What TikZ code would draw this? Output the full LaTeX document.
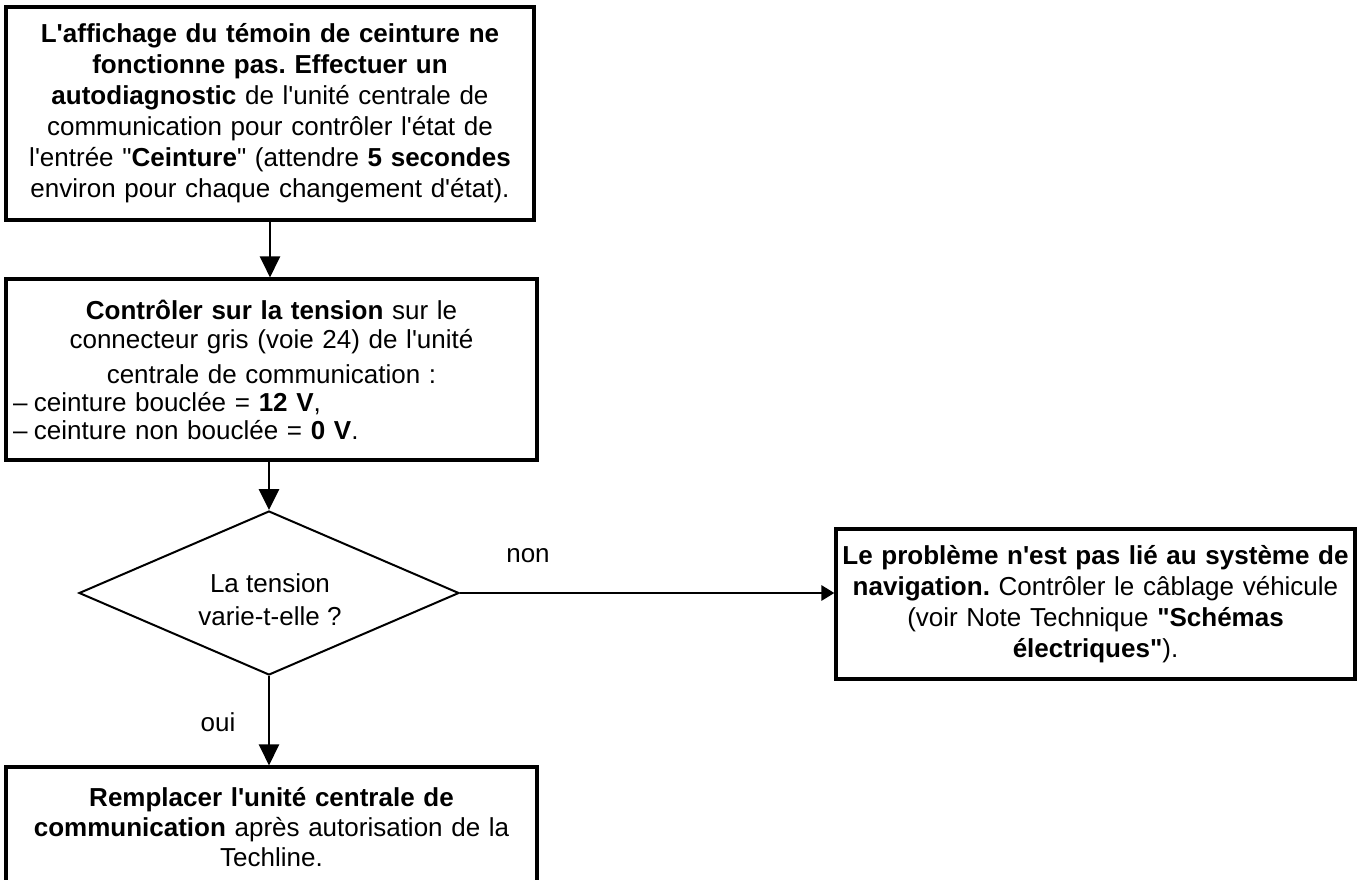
\documentclass[tikz,border=0pt]{standalone}
\usepackage{fontspec}
\newfontfamily\arial{Liberation Sans}
\usetikzlibrary{arrows.meta,shapes.geometric}
\frenchspacing
\begin{document}
\begin{tikzpicture}[x=1pt,y=-1pt,
  every node/.style={font=\arial\fontsize{26}{31}\selectfont, inner sep=0pt},
  box/.style={draw, line width=3.2pt, rectangle, align=center},
  dia/.style={draw, line width=2pt, diamond, aspect=2.3},
  conn/.style={line width=2.8pt, -{Triangle[width=20pt,length=21pt]}},
  connsmall/.style={line width=2.8pt, -{Triangle[width=15pt,length=13pt]}}]
\useasboundingbox (0,0) rectangle (1360,879);
\clip (0,0) rectangle (1360,879);

\node[box, minimum width=528, minimum height=213, text width=520] (b1) at (270,113.5)
  {\textbf{L'affichage du témoin de ceinture ne}\\
   \textbf{fonctionne pas. Effectuer un}\\
   \textbf{autodiagnostic} de l'unité centrale de\\
   communication pour contrôler l'état de\\
   l'entrée "\textbf{Ceinture}" (attendre \textbf{5 secondes}\\
   environ pour chaque changement d'état).};

\node[box, minimum width=531, minimum height=181, text width=523,
      font=\arial\fontsize{26}{29}\selectfont] (b2) at (271.5,369.5)
  {\textbf{Contrôler sur la tension} sur le\\
   connecteur gris (voie 24) de l'unité\\[6pt]
   centrale de communication :\\[-1pt]
   \makebox[\linewidth][l]{\hspace*{3pt}\makebox[21pt][l]{–}ceinture bouclée = \textbf{12 V},}\\[-1pt]
   \makebox[\linewidth][l]{\hspace*{3pt}\makebox[21pt][l]{–}ceinture non bouclée = \textbf{0 V}.}};

\node[dia, minimum width=380, minimum height=164] (d) at (269,593) {};
\node[align=center, font=\arial\fontsize{26}{33}\selectfont] (dt) at (270,600)
  {La tension\\varie-t-elle ?};

\node[box, minimum width=519, minimum height=150, text width=512] (b3) at (1095.5,604)
  {\textbf{Le problème n'est pas lié au système de}\\
   \textbf{navigation.} Contrôler le câblage véhicule\\
   (voir Note Technique \textbf{"Schémas}\\
   \textbf{électriques"}).};

\node[box, minimum width=531, minimum height=120, text width=523,
      font=\arial\fontsize{26}{30}\selectfont] (b4) at (271.5,827)
  {\textbf{Remplacer l'unité centrale de}\\
   \textbf{communication} après autorisation de la\\
   Techline.};

\draw[conn] (b1.south) -- (b1.south |- b2.north);
\draw[conn] (b2.south -| d.north) -- (d.north);
\draw[connsmall] (d.east) -- (d.east -| b3.west);
\draw[conn] (d.south) -- (d.south |- b4.north);

\node (non) at (528,556) {non};
\node (oui) at (218,722) {oui};
\end{tikzpicture}
\end{document}
